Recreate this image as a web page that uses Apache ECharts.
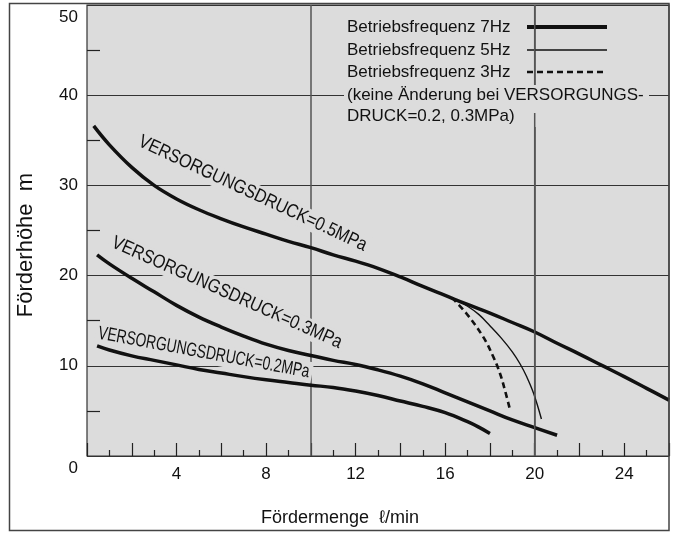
<!DOCTYPE html>
<html><head><meta charset="utf-8">
<script src="https://cdn.jsdelivr.net/npm/echarts@6/dist/echarts.min.js"></script>
<style>html,body{margin:0;padding:0;background:#fff}#c{width:675px;height:533px}</style>
</head><body><div id="c"></div>
<script>
// ---- data ----
const flow05_7Hz = [0.3, 1, 2, 3, 4, 5, 6, 7, 8, 9, 10, 11, 12, 13, 14, 15, 16, 17, 18, 19, 20, 21, 22, 23, 24, 25, 26];
const head05_7Hz = [36.6, 34.5, 32.0, 30.0, 28.5, 27.3, 26.3, 25.4, 24.6, 23.8, 23.1, 22.3, 21.6, 20.8, 19.85, 18.8, 17.8, 16.8, 15.85, 14.8, 13.75, 12.5, 11.3, 10.05, 8.8, 7.5, 6.2];
const flow05_5Hz = [16.4, 17.0, 17.5, 18.0, 18.5, 19.0, 19.35, 19.65, 19.95, 20.3];
const head05_5Hz = [17.45, 16.6, 15.7, 14.45, 13.1, 11.55, 10.2, 8.75, 6.95, 4.1];
const flow05_3Hz = [16.3, 16.95, 17.7, 18.15, 18.45, 18.67, 18.9];
const head05_3Hz = [17.55, 15.8, 13.2, 11.0, 9.15, 7.3, 5.1];
const flow03 = [0.45, 1, 2, 3, 4, 5, 6, 7, 8, 9, 10, 11, 12, 13, 14, 15, 16, 17, 18, 19, 20, 21];
const head03 = [22.3, 21.3, 19.7, 18.2, 16.7, 15.4, 14.3, 13.3, 12.4, 11.7, 11.15, 10.6, 10.15, 9.55, 8.85, 8.0, 7.0, 6.0, 5.0, 4.0, 3.15, 2.3];
const flow02 = [0.45, 1, 2, 3, 4, 5, 6, 7, 8, 9, 10, 11, 12, 13, 14, 15, 16, 17, 17.5, 18];
const head02 = [12.2, 11.75, 11.1, 10.6, 10.1, 9.6, 9.2, 8.8, 8.45, 8.15, 7.85, 7.6, 7.2, 6.7, 6.1, 5.5, 4.8, 3.8, 3.2, 2.5];
const xLabelValues = [4, 8, 12, 16, 20, 24];
const yLabelValues = [0, 10, 20, 30, 40, 50];
const xGridValues = [10, 20];
const curveLabels = ['VERSORGUNGSDRUCK=0.5MPa', 'VERSORGUNGSDRUCK=0.3MPa', 'VERSORGUNGSDRUCK=0.2MPa'];
const legendLabels = ['Betriebsfrequenz 7Hz', 'Betriebsfrequenz 5Hz', 'Betriebsfrequenz 3Hz'];
const legendNote = '(keine Änderung bei VERSORGUNGS-\nDRUCK=0.2, 0.3MPa)';
const xName = 'Fördermenge  ℓ/min';
const yName = 'Förderhöhe  m';

const zip = (a, b) => a.map((v, i) => [v, b[i]]);
const FONT = '"Liberation Sans", Arial, Helvetica, sans-serif';
const BG = '#dcdcdc';

const chart = echarts.init(document.getElementById('c'), null, {renderer: 'canvas'});

const baseLine = (data, width, type) => ({
  type: 'line', data, smooth: 0.4, symbol: 'none', z: 10,
  lineStyle: {color: '#111', width, type: type || 'solid'},
  silent: true, animation: false
});

chart.setOption({
  animation: false,
  backgroundColor: '#fff',
  grid: {left: 87, right: 6, top: 5, bottom: 77, show: true, backgroundColor: BG, borderColor: '#333', borderWidth: 1.2},
  xAxis: {
    type: 'value', min: 0, max: 26, interval: 2,
    axisLine: {show: false},
    axisTick: {show: true, inside: true, length: 13, lineStyle: {color: '#222', width: 1.2}},
    minorTick: {show: true, splitNumber: 2, length: 6, lineStyle: {color: '#222', width: 1.2}},
    axisLabel: {
      fontSize: 17, color: '#111', fontFamily: FONT, margin: 10,
      formatter: v => xLabelValues.includes(v) ? String(v) : ''
    },
    splitLine: {show: false}
  },
  yAxis: {
    type: 'value', min: 0, max: 50, interval: 10,
    axisLine: {show: false},
    axisTick: {show: false, inside: true},
    minorTick: {show: true, splitNumber: 2, length: 13, lineStyle: {color: '#222', width: 1.2}},
    axisLabel: {
      fontSize: 17, color: '#111', fontFamily: FONT, margin: 9,
      formatter: v => yLabelValues.includes(v) ? ((v === 0 || v === 50) ? '{e|' + v + '}' : '{n|' + v + '}') : '',
      rich: {
        e: {fontSize: 17, color: '#111', fontFamily: FONT, padding: [24, 0, 0, 0]},
        n: {fontSize: 17, color: '#111', fontFamily: FONT}
      }
    },
    splitLine: {show: true, lineStyle: {color: '#333', width: 1}}
  },
  series: [
    {
      type: 'line', data: [], z: 1, symbol: 'none',
      markLine: {
        silent: true, symbol: ['none', 'none'], label: {show: false}, animation: false,
        lineStyle: {color: '#555', width: 1.5, type: 'solid'},
        data: xGridValues.map(v => [{xAxis: v, yAxis: 0}, {xAxis: v, yAxis: 50}])
      }
    },
    baseLine(zip(flow05_7Hz, head05_7Hz), 3.5),
    baseLine(zip(flow05_5Hz, head05_5Hz), 1.4),
    baseLine(zip(flow05_3Hz, head05_3Hz), 2.6, [6, 4]),
    baseLine(zip(flow03, head03), 3.5),
    baseLine(zip(flow02, head02), 3.5)
  ]
});

// curve label anchors (data coordinates), rotation (deg), horizontal squeeze
const labelPlacement = [
  {at: [7.4, 29.1], rot: 25, sx: 0.85},
  {at: [6.25, 18.1], rot: 24, sx: 0.85},
  {at: [5.22, 11.44], rot: 10.5, sx: 0.73}
];
const g = [];
curveLabels.forEach((t, i) => {
  const p = chart.convertToPixel({gridIndex: 0}, labelPlacement[i].at);
  g.push({
    type: 'text', x: p[0], y: p[1], rotation: -labelPlacement[i].rot * Math.PI / 180,
    scaleX: labelPlacement[i].sx, z: 5,
    style: {text: t, font: '19px ' + FONT, fill: '#111', align: 'center', verticalAlign: 'middle',
      backgroundColor: BG, padding: [1, 4]}
  });
});
// legend texts kept low in the stack
const legRowY = [27, 50, 72];
legendLabels.forEach((t, i) => {
  g.push({type: 'text', x: 347, y: legRowY[i], z: 3,
    style: {text: t, font: '17px ' + FONT, fill: '#111', align: 'left', verticalAlign: 'middle'}});
});
// note block background masks the 40 gridline, as in the original
g.push({type: 'rect', z: 14, shape: {x: 344, y: 85, width: 305, height: 42}, style: {fill: BG}});
// legend samples
const legStyles = [
  {lineWidth: 3.8},
  {lineWidth: 1.4},
  {lineWidth: 2.6, lineDash: [6, 4]}
];
legRowY.forEach((y, i) => {
  g.push({type: 'line', z: 18,
    shape: {x1: 527, y1: y, x2: 607, y2: y},
    style: Object.assign({stroke: '#111'}, legStyles[i])});
});
// vertical gridline at 20 re-stroked from the axis scale, in two pieces around the note
const pTop = chart.convertToPixel({gridIndex: 0}, [20, 50]);
const pBot = chart.convertToPixel({gridIndex: 0}, [20, 0]);
g.push({type: 'line', z: 23, shape: {x1: pTop[0], y1: pTop[1], x2: pTop[0], y2: 85},
  style: {stroke: '#555', lineWidth: 1.5}});
g.push({type: 'line', z: 19, shape: {x1: pTop[0], y1: 113, x2: pBot[0], y2: pBot[1]},
  style: {stroke: '#555', lineWidth: 1.5}});
g.push({type: 'text', x: 347, y: 106, z: 21,
  style: {text: legendNote, font: '17px ' + FONT, fill: '#111', align: 'left', verticalAlign: 'middle',
    lineHeight: 21}});
// axis names
g.push({type: 'text', x: 340, y: 518,
  style: {text: xName, font: '18px ' + FONT, fill: '#111', align: 'center', verticalAlign: 'middle'}});
g.push({type: 'text', x: 26, y: 245, rotation: Math.PI / 2,
  style: {text: yName, font: '22px ' + FONT, fill: '#111', align: 'center', verticalAlign: 'middle'}});
// outer frame
g.push({type: 'rect', z: 22,
  shape: {x: 9.5, y: 3.5, width: 659.5, height: 527},
  style: {fill: null, stroke: '#444', lineWidth: 1.5}});

chart.setOption({graphic: {elements: g}});
</script>
</body></html>
